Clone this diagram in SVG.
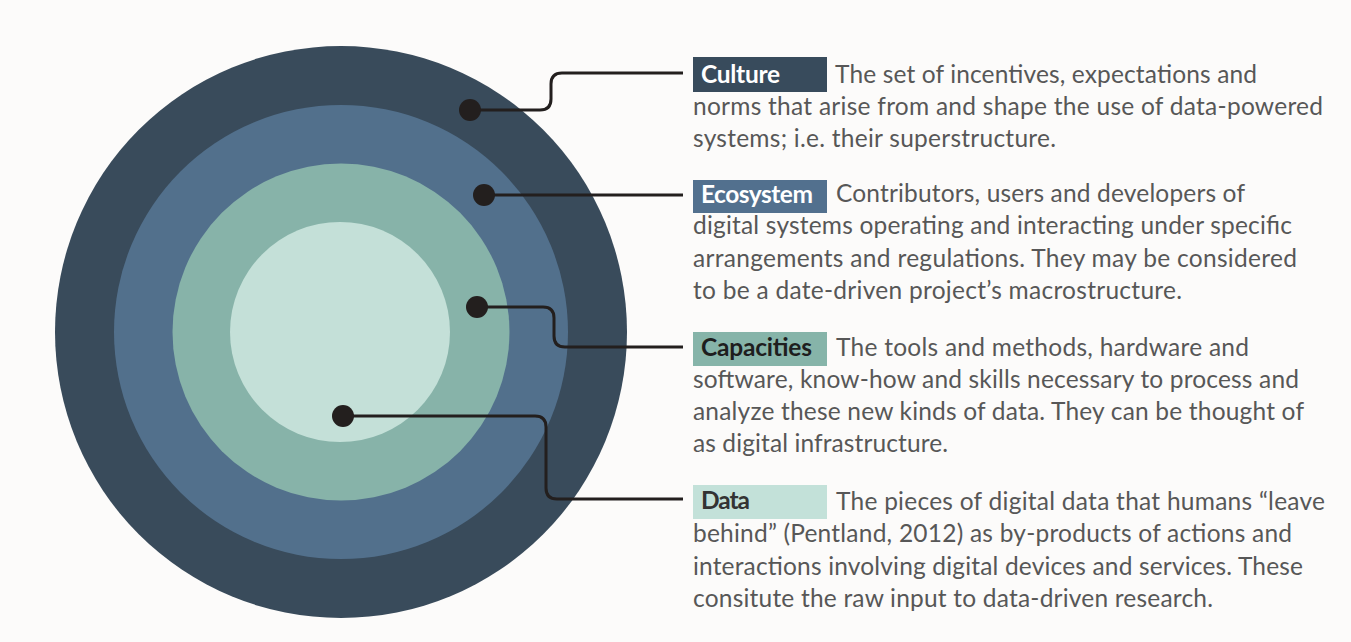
<svg xmlns="http://www.w3.org/2000/svg" width="1351" height="642" viewBox="0 0 1351 642">
  <style>
    .desc { font-family: Lato, "Open Sans", "Liberation Sans", sans-serif; font-size: 24.5px; fill: #575757; }
    .tag { font-family: Lato, "Open Sans", "Liberation Sans", sans-serif; font-size: 24.5px; font-weight: bold; }
    .wire { fill: none; stroke: #231f1e; stroke-width: 3; }
    .dot { fill: #231f1e; }
  </style>
  <rect width="1351" height="642" fill="#fcfbfa"/>

  <!-- concentric layers -->
  <g id="rings">
    <circle id="ring-culture" cx="341" cy="332" r="286" fill="#394b5b"/>
    <circle id="ring-ecosystem" cx="341" cy="332" r="227" fill="#52708c"/>
    <circle id="ring-capacities" cx="341" cy="332" r="168.5" fill="#87b3a9"/>
    <circle id="ring-data" cx="340" cy="332" r="110" fill="#c4e0d8"/>
  </g>

  <!-- leader lines from each layer to its description -->
  <g id="connectors">
    <path class="wire" d="M470,110 H540 Q551,110 551,99 V84 Q551,73 562,73 H683"/>
    <path class="wire" d="M484,195 H683"/>
    <path class="wire" d="M477,307 H543 Q554,307 554,318 V336 Q554,347 565,347 H683"/>
    <path class="wire" d="M343,416 H535 Q546,416 546,427 V488 Q546,499 557,499 H683"/>
    <circle class="dot" cx="470" cy="110" r="11"/>
    <circle class="dot" cx="484" cy="195" r="11"/>
    <circle class="dot" cx="477" cy="307" r="11"/>
    <circle class="dot" cx="343" cy="416" r="11"/>
  </g>

  <g id="culture">
    <rect x="693" y="57" width="134" height="35" fill="#384b5c"/>
    <text class="tag" x="701" y="83" fill="#ffffff" textLength="79">Culture</text>
    <text class="desc" x="835" y="83" textLength="422">The set of incentives, expectations and</text>
    <text class="desc" x="693" y="115" textLength="630">norms that arise from and shape the use of data-powered</text>
    <text class="desc" x="693" y="147" textLength="363">systems; i.e. their superstructure.</text>
  </g>

  <g id="ecosystem">
    <rect x="693" y="180" width="134" height="33" fill="#52708e"/>
    <text class="tag" x="701" y="203" fill="#ffffff" textLength="112">Ecosystem</text>
    <text class="desc" x="836" y="202" textLength="409">Contributors, users and developers of</text>
    <text class="desc" x="693" y="234" textLength="599">digital systems operating and interacting under specific</text>
    <text class="desc" x="693" y="267" textLength="604">arrangements and regulations. They may be considered</text>
    <text class="desc" x="693" y="299" textLength="489">to be a date-driven project’s macrostructure.</text>
  </g>

  <g id="capacities">
    <rect x="693" y="332" width="134" height="34" fill="#86b4a9"/>
    <text class="tag" x="701" y="356" fill="#1e1e1e" textLength="111">Capacities</text>
    <text class="desc" x="836" y="356" textLength="413">The tools and methods, hardware and</text>
    <text class="desc" x="693" y="388" textLength="606">software, know-how and skills necessary to process and</text>
    <text class="desc" x="693" y="420" textLength="611">analyze these new kinds of data. They can be thought of</text>
    <text class="desc" x="693" y="452" textLength="255">as digital infrastructure.</text>
  </g>

  <g id="data">
    <rect x="693" y="485" width="134" height="34" fill="#c3e1d9"/>
    <text class="tag" x="701" y="509" fill="#333333" textLength="49">Data</text>
    <text class="desc" x="836" y="510" textLength="489">The pieces of digital data that humans “leave</text>
    <text class="desc" x="693" y="542" textLength="599">behind” (Pentland, 2012) as by-products of actions and</text>
    <text class="desc" x="693" y="575" textLength="610">interactions involving digital devices and services. These</text>
    <text class="desc" x="693" y="607" textLength="520">consitute the raw input to data-driven research.</text>
  </g>
</svg>
